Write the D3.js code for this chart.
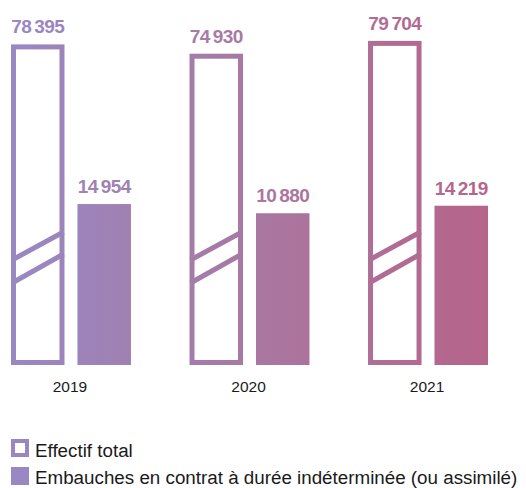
<!DOCTYPE html>
<html><head><meta charset="utf-8">
<script src="https://cdn.jsdelivr.net/npm/d3@7"></script>
<style>
html,body{margin:0;padding:0;background:#fff;}
svg{display:block;font-family:"Liberation Sans",Arial,sans-serif;}
</style></head>
<body>
<script>
const years = ["2019", "2020", "2021"];
const effectifTotal = [78395, 74930, 79704];
const embauchesCDI = [14954, 10880, 14219];
const seriesNames = ["Effectif total", "Embauches en contrat à durée indéterminée (ou assimilé)"];

const W = 526, H = 488, baseY = 365;
const svg = d3.select("body").append("svg").attr("width", W).attr("height", H);

const defs = svg.append("defs");
const grad = defs.append("linearGradient").attr("id", "g").attr("gradientUnits", "userSpaceOnUse")
  .attr("x1", 11).attr("x2", 488).attr("y1", 0).attr("y2", 0);
grad.append("stop").attr("offset", 0).attr("stop-color", "#9888c3");
grad.append("stop").attr("offset", 0.5).attr("stop-color", "#a878a2");
grad.append("stop").attr("offset", 1).attr("stop-color", "#b6648a");
const C = "url(#g)";

const x = d3.scaleBand().domain(years).range([11, 488]).paddingInner(0.328).paddingOuter(0);
const xs = d3.scaleBand().domain(["total", "cdi"]).range([0, x.bandwidth()]).paddingInner(0.195);
// broken axes: bars start at baseline, tops follow the scales
const yTotal = d3.scaleLinear().domain([70000, 80000]).range([66.96, 40.09]);
const yCdi = d3.scaleLinear().domain([10000, 15000]).range([215.22, 203.96]);

const fmt = v => d3.format(",")(v).replace(/,/g, "\u2009");
const xT = d => x(d) + xs("total");
const xC = d => x(d) + xs("cdi");
const bw = xs.bandwidth();
const sw = 5;

// outlined total bars
svg.selectAll("rect.tot").data(years).join("rect").attr("class", "tot")
  .attr("x", d => xT(d) + sw / 2)
  .attr("width", bw - sw)
  .attr("y", (d, i) => yTotal(effectifTotal[i]) + sw / 2)
  .attr("height", (d, i) => baseY - yTotal(effectifTotal[i]) - sw)
  .attr("fill", "#fff").attr("stroke", C).attr("stroke-width", sw);

// break marks
[[260, 232], [283, 254]].forEach(([yl, yr], k) => {
  svg.selectAll("line.brk" + k).data(years).join("line").attr("class", "brk" + k)
    .attr("x1", d => xT(d) + 1).attr("x2", d => xT(d) + bw - 1)
    .attr("y1", yl).attr("y2", yr)
    .attr("stroke", C).attr("stroke-width", 5);
});

// filled CDI bars
svg.selectAll("rect.cdi").data(years).join("rect").attr("class", "cdi")
  .attr("x", d => xC(d))
  .attr("width", bw)
  .attr("y", (d, i) => yCdi(embauchesCDI[i]))
  .attr("height", (d, i) => baseY - yCdi(embauchesCDI[i]))
  .attr("fill", C);

// value labels
svg.selectAll("text.vt").data(years).join("text").attr("class", "vt")
  .attr("x", d => xT(d) + bw / 2)
  .attr("y", (d, i) => yTotal(effectifTotal[i]) - 11)
  .attr("text-anchor", "middle").attr("font-size", 19).attr("font-weight", "bold")
  .attr("letter-spacing", -0.6).attr("fill", C)
  .text((d, i) => fmt(effectifTotal[i]));
svg.selectAll("text.vc").data(years).join("text").attr("class", "vc")
  .attr("x", d => xC(d) + bw / 2)
  .attr("y", (d, i) => yCdi(embauchesCDI[i]) - 11)
  .attr("text-anchor", "middle").attr("font-size", 19).attr("font-weight", "bold")
  .attr("letter-spacing", -0.6).attr("fill", C)
  .text((d, i) => fmt(embauchesCDI[i]));

// year axis labels
const xAxis = d3.axisBottom(x).tickSize(0).tickPadding(0);
const ax = svg.append("g").attr("transform", `translate(0,${baseY + 16})`).call(xAxis);
ax.select(".domain").remove();
ax.selectAll("text").attr("font-size", 15.5).attr("fill", "#1a1a1a")
  .attr("font-family", "Liberation Sans, Arial, sans-serif").attr("dy", "0.71em")
  .attr("transform", "translate(-1,0)");

// legend
const lg = svg.append("g");
lg.append("rect").attr("x", 13).attr("y", 441).attr("width", 14).attr("height", 14)
  .attr("fill", "#fff").attr("stroke", C).attr("stroke-width", 4);
lg.append("rect").attr("x", 11).attr("y", 467).attr("width", 18).attr("height", 18).attr("fill", C);
lg.selectAll("text").data(seriesNames).join("text")
  .attr("x", 35).attr("y", (d, i) => i === 0 ? 457 : 484)
  .attr("font-size", 18.8).attr("fill", "#1a1a1a").text(d => d);
</script>
</body></html>
